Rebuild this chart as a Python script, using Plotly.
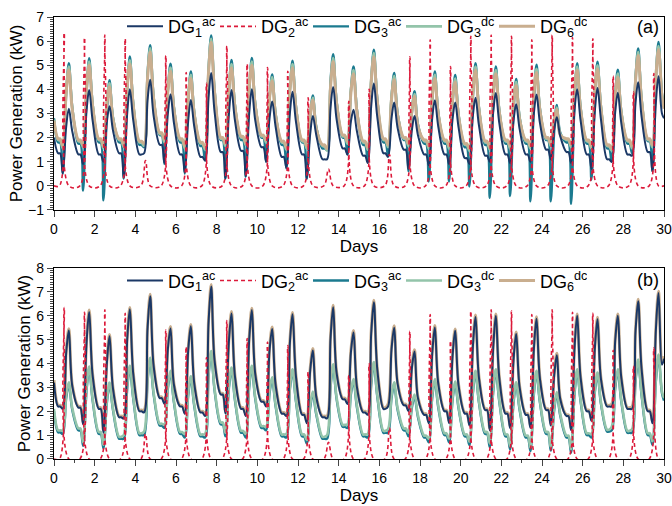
import plotly.graph_objects as go

N_DAYS = 30

# ---- DG2 (PV) daily noon peaks, identical in both panels ----
pv_peak = [6.35, 6.15, 6.25, 6.1, 1.05, 5.4, 4.7, 4.25, 5.8, 5.05, 4.9, 4.75, 3.65, 0.7, 3.5,
           4.0, 1.3, 5.35, 6.05, 4.95, 6.2, 6.25, 6.2, 6.05, 6.25, 6.15, 6.1, 4.55, 3.9, 4.65]

# ---- panel (a) ----
a_dg1_start, a_dg1_end = 2.0, 2.8
a_dg1_low = [1.35, 1.3, 1.3, 1.35, 1.3, 1.7, 1.3, 1.2, 1.4, 1.45, 1.6, 1.2, 1.3, 1.1, 1.55,
             1.25, 1.35, 1.5, 1.3, 1.3, 1.15, 1.25, 1.3, 1.3, 1.5, 1.4, 1.3, 1.1, 1.3, 1.4]
a_dg1_dip = [0.5, 0.9, 1.0, 0.35, 1.35, 0.95, 0.55, 1.05, 0.3, 0.4, 1.0, 0.75, 0.3, 1.1, 1.3,
             0.95, 1.2, 0.7, 0.85, 0.9, 0.9, 1.0, 0.95, 1.0, 1.1, 0.95, 0.7, 1.0, 1.25, 0.6]
a_dg1_rise = [2.45, 3.1, 2.65, 3.0, 3.55, 3.0, 2.7, 3.65, 2.95, 3.0, 2.8, 3.0, 2.15, 3.25, 2.65,
              3.3, 2.8, 2.3, 2.8, 2.75, 2.9, 3.05, 2.7, 3.0, 2.35, 3.15, 3.1, 3.05, 3.45, 3.45]
a_dg1_peak = [3.2, 3.97, 3.3, 4.0, 4.4, 3.8, 3.56, 4.68, 3.97, 4.0, 3.5, 3.9, 2.9, 4.1, 3.15,
              4.24, 3.45, 2.9, 3.55, 3.45, 3.65, 3.85, 3.38, 3.79, 2.84, 4.0, 4.06, 3.86, 4.29, 4.54]
a_dg1_eve = [2.25, 2.7, 2.3, 2.7, 2.9, 2.6, 2.45, 3.05, 2.7, 2.7, 2.45, 2.65, 2.1, 2.75, 2.25,
             2.85, 2.4, 2.1, 2.45, 2.4, 2.5, 2.6, 2.35, 2.6, 2.05, 2.7, 2.75, 2.6, 2.85, 3.0]

a_dg3ac_start, a_dg3ac_end = 2.8, 3.3
a_dg3ac_low = [1.8, 1.75, 1.8, 1.8, 1.7, 2.1, 1.8, 1.65, 1.9, 1.9, 2.0, 1.7, 1.8, 1.55, 2.0,
               1.7, 1.8, 1.9, 1.75, 1.75, 1.6, 1.7, 1.75, 1.75, 1.9, 1.8, 1.75, 1.55, 1.75, 1.85]
a_dg3ac_dip = [0.5, -0.2, -0.6, 0.3, 1.6, 0.9, 0.5, 1.05, 0.3, 0.38, 1.0, 0.72, 0.28, 1.5, 1.3,
               1.0, 1.25, 0.6, 0.18, 0.18, -0.03, -0.5, -0.42, -0.64, -0.64, -0.75, 0.25, 1.0, 1.35, 0.6]
a_dg3ac_rise = [3.8, 3.75, 3.0, 3.95, 4.65, 3.9, 3.55, 4.8, 3.85, 3.9, 3.6, 3.95, 2.8, 4.35, 3.95,
                4.35, 3.7, 3.0, 3.45, 3.35, 3.65, 3.4, 3.05, 3.45, 2.25, 3.45, 3.8, 3.75, 4.5, 4.45]
a_dg3ac_peak = [5.08, 5.29, 4.38, 5.36, 5.83, 5.06, 4.74, 6.24, 5.22, 5.3, 4.62, 5.19, 3.75, 5.46, 4.95,
                5.64, 4.68, 3.92, 4.74, 4.6, 5.08, 4.95, 4.43, 5.02, 3.35, 5.08, 5.15, 4.81, 5.7, 5.97]
a_dg3ac_eve = [3.25, 3.4, 2.85, 3.4, 3.7, 3.25, 3.05, 3.95, 3.35, 3.4, 3.0, 3.3, 2.45, 3.5, 3.15,
               3.6, 3.0, 2.55, 3.05, 2.95, 3.25, 3.15, 2.85, 3.2, 2.2, 3.25, 3.3, 3.1, 3.6, 3.8]

a_dg3dc_start, a_dg3dc_end = 2.75, 3.3
a_dg3dc_low = [1.9, 1.85, 1.9, 1.9, 1.8, 2.15, 1.9, 1.75, 1.95, 2.0, 2.05, 1.8, 1.85, 1.65, 2.05,
               1.8, 1.9, 1.95, 1.85, 1.85, 1.7, 1.8, 1.85, 1.85, 1.95, 1.9, 1.85, 1.65, 1.85, 1.9]
a_dg3dc_dip = [1.55, 1.6, 1.55, 1.6, 1.65, 1.8, 1.55, 1.5, 1.65, 1.7, 1.8, 1.5, 1.55, 1.45, 1.75,
               1.5, 1.6, 1.65, 1.55, 1.55, 1.45, 1.5, 1.55, 1.55, 1.65, 1.6, 1.55, 1.45, 1.55, 1.6]
a_dg3dc_rise = [4.0, 4.15, 3.5, 4.2, 4.55, 4.05, 3.75, 4.8, 4.1, 4.2, 3.75, 4.05, 3.05, 4.2, 3.95,
                4.4, 3.7, 3.2, 3.75, 3.65, 3.95, 3.9, 3.55, 3.95, 2.8, 4.0, 4.05, 3.75, 4.45, 4.6]
a_dg3dc_peak = [4.95, 5.15, 4.25, 5.2, 5.7, 4.9, 4.6, 6.1, 5.05, 5.15, 4.5, 5.05, 3.65, 5.3, 4.8,
                5.5, 4.55, 3.8, 4.6, 4.45, 4.95, 4.8, 4.3, 4.85, 3.25, 4.95, 5.0, 4.65, 5.55, 5.8]
a_dg3dc_eve = [3.2, 3.35, 2.8, 3.35, 3.65, 3.2, 3.0, 3.9, 3.3, 3.35, 2.95, 3.25, 2.4, 3.45, 3.1,
               3.55, 2.95, 2.5, 3.0, 2.9, 3.2, 3.1, 2.8, 3.15, 2.15, 3.2, 3.25, 3.05, 3.55, 3.75]

a_dg6dc_start, a_dg6dc_end = 2.7, 3.2
a_dg6dc_low = [1.95, 1.9, 1.95, 1.95, 1.85, 2.2, 1.95, 1.8, 2.0, 2.05, 2.1, 1.85, 1.9, 1.7, 2.1,
               1.85, 1.95, 2.0, 1.9, 1.9, 1.75, 1.85, 1.9, 1.9, 2.0, 1.95, 1.9, 1.7, 1.9, 1.95]
a_dg6dc_dip = [1.65, 1.7, 1.65, 1.7, 1.75, 1.9, 1.65, 1.6, 1.75, 1.8, 1.9, 1.6, 1.65, 1.55, 1.85,
               1.6, 1.7, 1.75, 1.65, 1.65, 1.55, 1.6, 1.65, 1.65, 1.75, 1.7, 1.65, 1.55, 1.65, 1.7]
a_dg6dc_rise = [3.9, 4.05, 3.4, 4.1, 4.45, 3.95, 3.65, 4.7, 4.0, 4.1, 3.65, 3.95, 2.95, 4.1, 3.85,
                4.3, 3.6, 3.1, 3.65, 3.55, 3.85, 3.8, 3.45, 3.85, 2.7, 3.9, 3.95, 3.65, 4.35, 4.5]
a_dg6dc_peak = [4.8, 5.0, 4.1, 5.05, 5.55, 4.75, 4.45, 5.95, 4.9, 5.0, 4.35, 4.9, 3.55, 5.15, 4.65,
                5.35, 4.4, 3.7, 4.45, 4.3, 4.8, 4.65, 4.15, 4.7, 3.15, 4.8, 4.85, 4.5, 5.4, 5.65]
a_dg6dc_eve = [3.15, 3.3, 2.75, 3.3, 3.6, 3.15, 2.95, 3.85, 3.25, 3.3, 2.9, 3.2, 2.35, 3.4, 3.05,
               3.5, 2.9, 2.45, 2.95, 2.85, 3.15, 3.05, 2.75, 3.1, 2.1, 3.15, 3.2, 3.0, 3.5, 3.7]

# ---- panel (b) ----
b_dg1_start, b_dg1_end = 3.2, 4.2
b_dg1_low = [2.2, 2.15, 2.1, 1.75, 2.0, 2.55, 2.2, 1.95, 2.7, 2.1, 2.4, 1.9, 1.85, 1.75, 2.5,
             1.95, 2.1, 2.25, 1.85, 2.0, 1.9, 2.05, 1.9, 1.85, 2.05, 1.8, 2.0, 2.2, 2.1, 2.0]
b_dg1_dip = [2.1, 1.45, 1.1, 1.7, 1.95, 2.3, 1.9, 1.8, 1.9, 1.8, 2.2, 1.8, 1.5, 1.7, 2.3,
             1.85, 2.2, 2.0, 1.5, 1.5, 1.4, 1.2, 1.3, 1.3, 1.4, 1.2, 1.6, 2.2, 2.1, 1.5]
b_dg1_rise = [4.45, 4.85, 4.0, 5.0, 5.45, 4.6, 4.55, 5.7, 4.9, 5.0, 4.55, 4.85, 3.7, 5.05, 4.45,
              5.25, 4.6, 3.8, 4.4, 4.3, 4.7, 4.65, 4.15, 4.6, 3.5, 4.65, 4.65, 4.95, 5.35, 5.4]
b_dg1_peak = [5.38, 6.16, 5.14, 6.27, 6.82, 5.47, 5.56, 7.23, 6.1, 6.24, 5.45, 6.06, 4.55, 6.36, 5.3,
              6.57, 5.5, 4.5, 5.51, 5.37, 5.95, 6.0, 5.24, 5.88, 4.35, 6.0, 5.86, 6.0, 6.61, 6.95]
b_dg1_eve = [3.05, 3.5, 2.95, 3.55, 3.9, 3.1, 3.15, 4.1, 3.45, 3.55, 3.1, 3.45, 2.6, 3.6, 3.0,
             3.75, 3.15, 2.55, 3.15, 3.05, 3.4, 3.4, 3.0, 3.35, 2.5, 3.4, 3.35, 3.4, 3.75, 3.95]

b_dg3ac_start, b_dg3ac_end = 2.0, 2.45
b_dg3ac_low = [1.12, 1.2, 1.05, 0.85, 1.0, 1.4, 1.05, 0.95, 1.45, 1.1, 1.3, 0.95, 0.95, 0.85, 1.35,
               0.95, 1.1, 1.2, 0.9, 1.0, 0.95, 1.05, 0.95, 0.9, 1.05, 0.9, 1.0, 1.15, 1.1, 1.0]
b_dg3ac_dip = [1.05, 0.55, 0.45, 0.85, 1.0, 1.3, 0.9, 0.9, 0.95, 0.9, 1.2, 0.9, 0.65, 0.85, 1.3,
               0.9, 1.1, 0.95, 0.7, 0.7, 0.58, 0.5, 0.4, 0.33, 0.35, 0.26, 0.9, 1.2, 1.1, 0.6]
b_dg3ac_rise = [2.55, 2.85, 2.35, 2.95, 3.25, 2.95, 2.65, 3.45, 2.95, 3.0, 2.75, 2.9, 2.15, 3.0, 2.7,
                3.1, 2.55, 2.15, 2.55, 2.45, 2.75, 2.8, 2.35, 2.7, 2.05, 2.7, 2.8, 2.95, 3.25, 3.25]
b_dg3ac_peak = [3.11, 3.77, 3.1, 3.8, 4.14, 3.6, 3.36, 4.42, 3.73, 3.8, 3.32, 3.66, 2.73, 3.87, 3.25,
                3.96, 3.11, 2.6, 3.25, 3.14, 3.6, 3.66, 3.11, 3.6, 2.7, 3.66, 3.52, 3.66, 4.07, 4.28]
b_dg3ac_eve = [2.05, 2.45, 2.05, 2.5, 2.7, 2.35, 2.2, 2.85, 2.45, 2.5, 2.2, 2.4, 1.85, 2.5, 2.15,
               2.6, 2.05, 1.75, 2.15, 2.1, 2.35, 2.4, 2.05, 2.35, 1.8, 2.4, 2.3, 2.4, 2.65, 2.75]

b_dg3dc_start, b_dg3dc_end = 2.1, 2.55
b_dg3dc_low = [1.2, 1.28, 1.13, 0.93, 1.08, 1.48, 1.13, 1.03, 1.53, 1.18, 1.38, 1.03, 1.03, 0.93, 1.43,
               1.03, 1.18, 1.28, 0.98, 1.08, 1.03, 1.13, 1.03, 0.98, 1.13, 0.98, 1.08, 1.23, 1.18, 1.08]
b_dg3dc_dip = [1.2, 0.7, 0.6, 1.0, 1.15, 1.45, 1.05, 1.05, 1.1, 1.05, 1.35, 1.05, 0.8, 1.0, 1.45,
               1.05, 1.25, 1.1, 0.85, 0.85, 0.73, 0.65, 0.55, 0.48, 0.5, 0.41, 1.05, 1.35, 1.25, 0.75]
b_dg3dc_rise = [2.67, 2.97, 2.47, 3.07, 3.37, 3.07, 2.77, 3.57, 3.07, 3.12, 2.87, 3.02, 2.27, 3.12, 2.82,
                3.22, 2.67, 2.27, 2.67, 2.57, 2.87, 2.92, 2.47, 2.82, 2.17, 2.82, 2.92, 3.07, 3.37, 3.37]
b_dg3dc_peak = [3.21, 3.87, 3.2, 3.9, 4.24, 3.7, 3.46, 4.52, 3.83, 3.9, 3.42, 3.76, 2.83, 3.97, 3.35,
                4.06, 3.21, 2.7, 3.35, 3.24, 3.7, 3.76, 3.21, 3.7, 2.8, 3.76, 3.62, 3.76, 4.17, 4.38]
b_dg3dc_eve = [2.13, 2.53, 2.13, 2.58, 2.78, 2.43, 2.28, 2.93, 2.53, 2.58, 2.28, 2.48, 1.93, 2.58, 2.23,
               2.68, 2.13, 1.83, 2.23, 2.18, 2.43, 2.48, 2.13, 2.43, 1.88, 2.48, 2.38, 2.48, 2.73, 2.83]

b_dg6dc_start, b_dg6dc_end = 3.3, 4.3
b_dg6dc_low = [2.25, 2.2, 2.15, 1.8, 2.05, 2.6, 2.25, 2.0, 2.75, 2.15, 2.45, 1.95, 1.9, 1.8, 2.55,
               2.0, 2.15, 2.3, 1.9, 2.05, 1.95, 2.1, 1.95, 1.9, 2.1, 1.85, 2.05, 2.25, 2.15, 2.05]
b_dg6dc_dip = [2.2, 1.55, 1.2, 1.8, 2.05, 2.4, 2.0, 1.9, 2.0, 1.9, 2.3, 1.9, 1.6, 1.8, 2.4,
               1.95, 2.3, 2.1, 1.6, 1.6, 1.5, 1.3, 1.4, 1.4, 1.5, 1.3, 1.7, 2.3, 2.2, 1.6]
b_dg6dc_rise = [4.55, 4.95, 4.1, 5.1, 5.55, 4.7, 4.65, 5.8, 5.0, 5.1, 4.65, 4.95, 3.8, 5.15, 4.55,
                5.35, 4.7, 3.9, 4.5, 4.4, 4.8, 4.75, 4.25, 4.7, 3.6, 4.75, 4.75, 5.05, 5.45, 5.5]
b_dg6dc_peak = [5.46, 6.24, 5.22, 6.35, 6.9, 5.55, 5.64, 7.31, 6.18, 6.32, 5.53, 6.14, 4.63, 6.44, 5.38,
                6.65, 5.58, 4.58, 5.59, 5.45, 6.03, 6.08, 5.32, 5.96, 4.43, 6.08, 5.94, 6.08, 6.69, 7.03]
b_dg6dc_eve = [3.1, 3.55, 3.0, 3.6, 3.95, 3.15, 3.2, 4.15, 3.5, 3.6, 3.15, 3.5, 2.65, 3.65, 3.05,
               3.8, 3.2, 2.6, 3.2, 3.1, 3.45, 3.45, 3.05, 3.4, 2.55, 3.45, 3.4, 3.45, 3.8, 4.0]

# time of day (fraction of a day) at which the daily readings were taken
T_LOW1, T_LOW2, T_DIP, T_RISE, T_PEAK, T_EVE = 0.20, 0.30, 0.43, 0.60, 0.73, 0.90
T_PV_ON, T_PV_PEAK, T_PV_OFF = 0.27, 0.50, 0.73


def load_series(start, low, dip, rise, peak, eve, end):
    xs, ys = [0.0], [start]
    for d in range(N_DAYS):
        xs += [d + T_LOW1, d + T_LOW2, d + T_DIP, d + T_RISE, d + T_PEAK, d + T_EVE]
        ys += [low[d], low[d], dip[d], rise[d], peak[d], eve[d]]
    xs.append(float(N_DAYS))
    ys.append(end)
    return xs, ys


def pv_series(peaks):
    xs, ys = [0.0], [0.0]
    for d in range(N_DAYS):
        xs += [d + T_PV_ON, d + T_PV_PEAK, d + T_PV_OFF]
        ys += [0.0, peaks[d], 0.0]
    xs.append(float(N_DAYS))
    ys.append(0.0)
    return xs, ys


C_NAVY = "#1b3866"
C_RED = "#dc1a3a"
C_TEAL = "#1b7a8f"
C_GREEN = "#93c4aa"
C_TAN = "#c9ae8f"

NAMES = {
    "dg1": "DG<sub>1</sub><sup>ac</sup>",
    "dg2": "DG<sub>2</sub><sup>ac</sup>",
    "dg3ac": "DG<sub>3</sub><sup>ac</sup>",
    "dg3dc": "DG<sub>3</sub><sup>dc</sup>",
    "dg6dc": "DG<sub>6</sub><sup>dc</sup>",
}

fig = go.Figure()


def add(xy, key, color, width, dash, rank, xa, ya, leg):
    fig.add_trace(go.Scatter(
        x=xy[0], y=xy[1], mode="lines", name=NAMES[key],
        line=dict(color=color, width=width, dash=dash, shape="spline", smoothing=1),
        legendrank=rank, xaxis=xa, yaxis=ya, legend=leg, hoverinfo="skip"))


panels = [
    ("x", "y", "legend",
     (a_dg6dc_start, a_dg6dc_low, a_dg6dc_dip, a_dg6dc_rise, a_dg6dc_peak, a_dg6dc_eve, a_dg6dc_end),
     (a_dg3dc_start, a_dg3dc_low, a_dg3dc_dip, a_dg3dc_rise, a_dg3dc_peak, a_dg3dc_eve, a_dg3dc_end),
     (a_dg3ac_start, a_dg3ac_low, a_dg3ac_dip, a_dg3ac_rise, a_dg3ac_peak, a_dg3ac_eve, a_dg3ac_end),
     (a_dg1_start, a_dg1_low, a_dg1_dip, a_dg1_rise, a_dg1_peak, a_dg1_eve, a_dg1_end)),
    ("x2", "y2", "legend2",
     (b_dg6dc_start, b_dg6dc_low, b_dg6dc_dip, b_dg6dc_rise, b_dg6dc_peak, b_dg6dc_eve, b_dg6dc_end),
     (b_dg3dc_start, b_dg3dc_low, b_dg3dc_dip, b_dg3dc_rise, b_dg3dc_peak, b_dg3dc_eve, b_dg3dc_end),
     (b_dg3ac_start, b_dg3ac_low, b_dg3ac_dip, b_dg3ac_rise, b_dg3ac_peak, b_dg3ac_eve, b_dg3ac_end),
     (b_dg1_start, b_dg1_low, b_dg1_dip, b_dg1_rise, b_dg1_peak, b_dg1_eve, b_dg1_end)),
]

for xa, ya, leg, s6, s3d, s3a, s1 in panels:
    add(load_series(*s3a), "dg3ac", C_TEAL, 2.4, "solid", 3, xa, ya, leg)
    add(load_series(*s3d), "dg3dc", C_GREEN, 2.6, "solid", 4, xa, ya, leg)
    add(load_series(*s6), "dg6dc", C_TAN, 3.0, "solid", 5, xa, ya, leg)
    add(load_series(*s1), "dg1", C_NAVY, 2.0, "solid", 1, xa, ya, leg)
    add(pv_series(pv_peak), "dg2", C_RED, 1.6, "4px,3px", 2, xa, ya, leg)

FONT = "Arial, 'Liberation Sans', sans-serif"

xcommon = dict(range=[0, 30], tick0=0, dtick=2, ticks="outside", ticklen=6, tickwidth=1.2,
               minor=dict(dtick=1, ticks="outside", ticklen=3, tickwidth=1),
               showline=True, linecolor="black", linewidth=1.3, mirror=True, automargin=False,
               showgrid=False, zeroline=False, tickfont=dict(size=14, color="black"),
               title=dict(text="Days", font=dict(size=17, color="black"), standoff=2))
ycommon = dict(dtick=1, ticks="outside", ticklen=6, tickwidth=1.2,
               minor=dict(dtick=0.1, ticks="outside", ticklen=3, tickwidth=0.8),
               showline=True, linecolor="black", linewidth=1.3, mirror=True, automargin=False,
               showgrid=False, zeroline=False, tickfont=dict(size=14, color="black"),
               title=dict(text="Power Generation (kW)", font=dict(size=17, color="black"), standoff=1))

legcommon = dict(orientation="h", xanchor="left", yanchor="top",
                 bgcolor="rgba(0,0,0,0)", font=dict(size=18, color="black", family=FONT),
                 itemwidth=36, entrywidth=42, tracegroupgap=0, traceorder="normal")

fig.update_layout(
    width=672, height=506,
    margin=dict(l=54, r=8, t=10, b=47),
    paper_bgcolor="white", plot_bgcolor="white",
    font=dict(family=FONT, color="black"),
    showlegend=True,
    xaxis=dict(domain=[0, 1], anchor="y", **xcommon),
    yaxis=dict(domain=[0.5635, 1], anchor="x", range=[-1, 7], **ycommon),
    xaxis2=dict(domain=[0, 1], anchor="y2", **xcommon),
    yaxis2=dict(domain=[0, 0.432], anchor="x2", range=[0, 8], **ycommon),
    legend=dict(x=0.1115, y=1.02, **legcommon),
    legend2=dict(x=0.1115, y=0.445, **legcommon),
    annotations=[
        dict(text="(a)", x=0.995, y=0.978, xref="paper", yref="paper", xanchor="right",
             yanchor="middle", showarrow=False, font=dict(size=18, color="black")),
        dict(text="(b)", x=0.995, y=0.405, xref="paper", yref="paper", xanchor="right",
             yanchor="middle", showarrow=False, font=dict(size=18, color="black")),
    ],
)

fig.write_html("out.html", config={"displayModeBar": False},
               post_script="document.body.style.margin='0px';")
